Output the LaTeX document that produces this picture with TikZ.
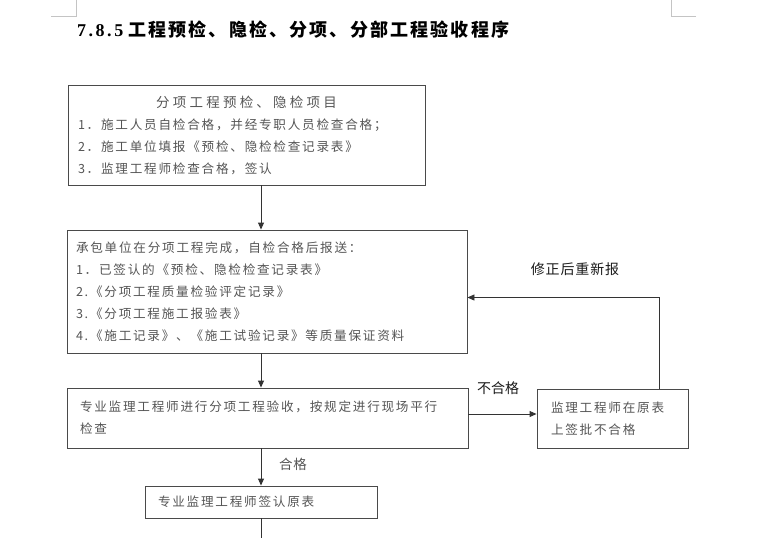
\documentclass[tikz,border=0pt]{standalone}
\usepackage{fontspec}
\setmainfont{Liberation Serif}
\newfontfamily\cjk[LetterSpace=14]{Noto Sans CJK SC}
\newfontfamily\cjkhead[LetterSpace=24]{Noto Sans CJK SC}
\newfontfamily\cjklab{Noto Sans CJK SC}
\newfontfamily\cjklabls[LetterSpace=6]{Noto Sans CJK SC}
\newfontfamily\cjktitle[LetterSpace=12]{Noto Sans CJK SC}
\newfontfamily\titlenum[LetterSpace=14]{Liberation Serif}
\usetikzlibrary{arrows.meta}
\definecolor{boxc}{HTML}{4A4A4A}
\definecolor{arrc}{HTML}{333333}
\definecolor{txtc}{HTML}{555555}
\definecolor{labc}{HTML}{1A1A1A}
\definecolor{markc}{HTML}{C4C4C4}
\begin{document}
\begin{tikzpicture}[x=1pt,y=-1pt,
  box/.style={draw=boxc, line width=0.9pt, inner sep=0pt, text=txtc,
    font=\cjk\fontsize{12.6}{22}\selectfont, align=left},
  arr/.style={draw=arrc, line width=0.9pt, -{Triangle[length=7pt,width=6pt]}},
  plain/.style={draw=arrc, line width=0.9pt},
  lab/.style={font=\cjklab\fontsize{14}{16}\selectfont, text=labc, inner sep=0pt},
  cornermark/.style={draw=markc, line width=0.6pt}]
\useasboundingbox[fill=white] (0,0) rectangle (760,538);

% page corner marks
\draw[cornermark] (51,16) -- (76,16) -- (76,0);
\draw[cornermark] (696,16) -- (671,16) -- (671,0);

% title
\node[anchor=west, inner sep=0pt, text=black] (title) at (77,29.5)
  {{\titlenum\bfseries\fontsize{18}{20}\selectfont 7.8.5}\hspace{5pt}{\cjktitle\bfseries\fontsize{18}{20}\selectfont 工程预检、隐检、分项、分部工程验收程序}};

% boxes
\node[box, minimum width=357pt, minimum height=100pt, text width=337pt] (b1) at (246.5,135)
  {\makebox[337pt][c]{\cjkhead\fontsize{13.5}{22}\selectfont 分项工程预检、隐检项目}\\
   1．施工人员自检合格，并经专职人员检查合格；\\
   2．施工单位填报《预检、隐检检查记录表》\\
   3．监理工程师检查合格，签认};

\node[box, minimum width=400pt, minimum height=123pt, text width=382pt] (b2) at (267,291.5)
  {承包单位在分项工程完成，自检合格后报送：\\
   1．已签认的《预检、隐检检查记录表》\\
   2.《分项工程质量检验评定记录》\\
   3.《分项工程施工报验表》\\
   4.《施工记录》、《施工试验记录》等质量保证资料};

\node[box, minimum width=401pt, minimum height=60pt, text width=375pt] (b3) at (267.5,418)
  {专业监理工程师进行分项工程验收，按规定进行现场平行\\检查};

\node[box, minimum width=232pt, minimum height=32pt, text width=206pt] (b4) at (261,502)
  {专业监理工程师签认原表};

\node[box, minimum width=151pt, minimum height=59pt, text width=123pt] (b5) at (612.5,418.5)
  {监理工程师在原表\\上签批不合格};

% helper coordinates
\coordinate (fb) at (659,297.5);
\coordinate (bot) at (261,538);

% connectors
\draw[arr] (b1.south -| b4) -- (b2.north -| b4);
\draw[arr] (b2.south -| b4) -- (b3.north -| b4);
\draw[arr] (b3.south -| b4) -- (b4.north);
\draw[plain] (b4.south) -- (bot);
\draw[arr] ([yshift=4pt]b3.east) -- ([yshift=4pt]b3.east -| b5.west);
\draw[arr] (b5.north -| fb) -- (fb) -- (b2.east |- fb);

% labels
\node[lab] (lbad) at (498,388) {不合格};
\node[lab, font=\cjklabls\fontsize{14}{16}\selectfont] (lfix) at (575,269) {修正后重新报};
\node[lab, text=txtc, font=\cjklabls\fontsize{13.5}{16}\selectfont] (lok) at (293,464) {合格};
\end{tikzpicture}
\end{document}
